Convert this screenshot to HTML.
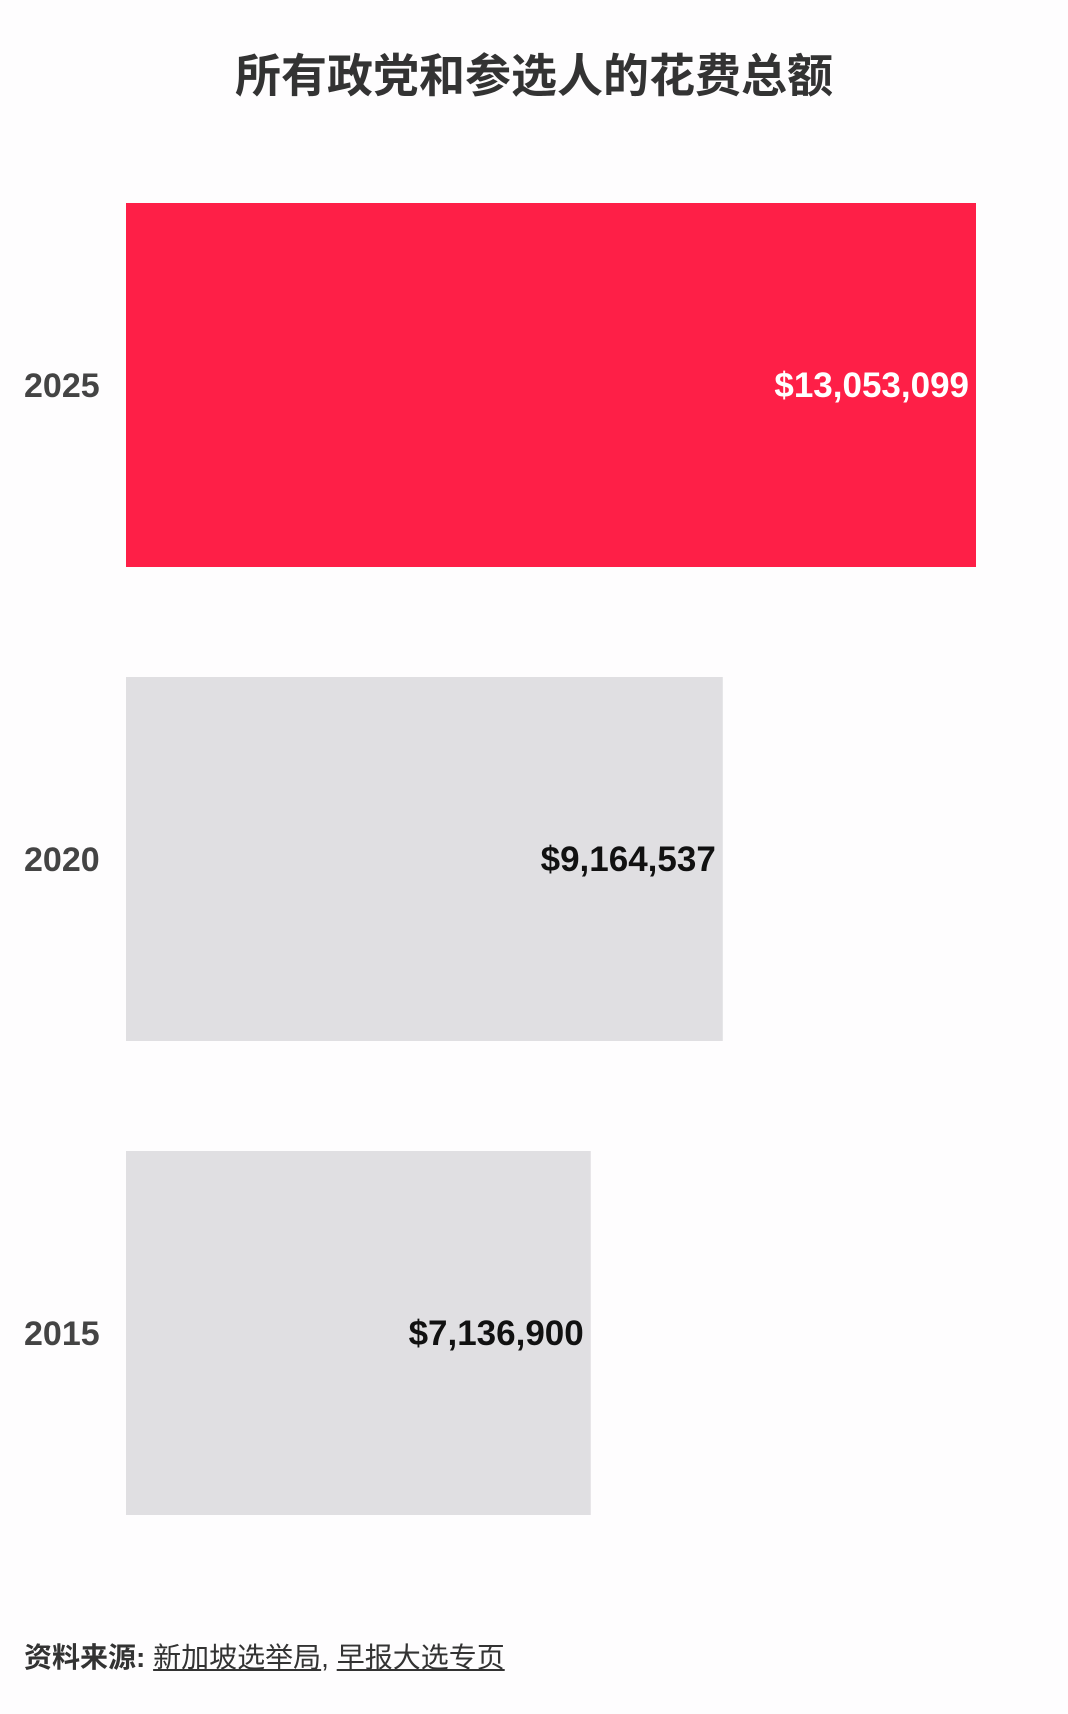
<!DOCTYPE html>
<html><head><meta charset="utf-8"><style>
body{margin:0;background:#fefdfe;width:1068px;height:1714px;overflow:hidden;font-family:"Liberation Sans Narrow","Liberation Sans","Noto Sans CJK SC",sans-serif}
#title{position:absolute;top:40px;left:0;width:1068px;text-align:center;font:bold 46px "Liberation Sans Narrow","Liberation Sans","Noto Sans CJK SC",sans-serif;color:#333}
#footer{position:absolute;top:1636px;left:24px;font:28px "Liberation Sans Narrow","Liberation Sans","Noto Sans CJK SC",sans-serif;color:#333}
#footer a{color:#333;text-decoration:underline}
</style></head><body>
<div id="title">所有政党和参选人的花费总额</div>
<svg id="chart" width="1068" height="1600" style="position:absolute;left:0;top:0"></svg>
<div id="footer"><b>资料来源:</b> <a>新加坡选举局</a>, <a>早报大选专页</a></div>
<script>
const categories=["2025","2020","2015"];
const values=[13053099,9164537,7136900];
const labels=["$13,053,099","$9,164,537","$7,136,900"];
const colors=["#fe1f47","#e0dfe2","#e0dfe2"];
const ns="http://www.w3.org/2000/svg";
const svg=document.getElementById('chart');
const x0=126,x1=976,maxV=13053099;
const x=v=>x0+(x1-x0)*v/maxV;
const y=i=>203+i*474;
const bh=364;
categories.forEach((c,i)=>{
 const r=document.createElementNS(ns,'rect');
 
 
 r.setAttribute('x',x0);r.setAttribute('y',y(i));
 r.setAttribute('width',x(values[i])-x0);r.setAttribute('height',bh);
 r.setAttribute('fill',colors[i]);svg.appendChild(r);
 const t=document.createElementNS(ns,'text');
 
 
 t.setAttribute('x',24);t.setAttribute('y',y(i)+bh/2+12);
 t.setAttribute('font-size','34');t.setAttribute('font-weight','bold');t.setAttribute('fill','#444');
 t.textContent=c;svg.appendChild(t);
 const v=document.createElementNS(ns,'text');
 
 
 v.setAttribute('x',x(values[i])-7);v.setAttribute('y',y(i)+bh/2+12);
 v.setAttribute('text-anchor','end');
 v.setAttribute('font-size','35');v.setAttribute('font-weight','bold');
 v.setAttribute('fill',i===0?'#fff':'#111');
 v.textContent=labels[i];svg.appendChild(v);
});
</script>
</body></html>
